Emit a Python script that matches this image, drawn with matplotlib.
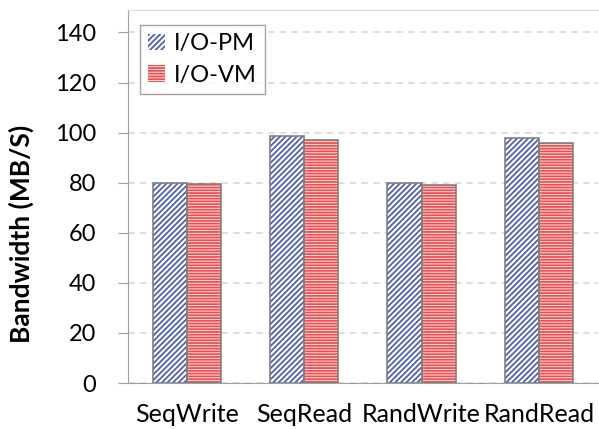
import matplotlib.pyplot as plt
import numpy as np
from matplotlib.patches import Patch

plt.rcParams['font.family'] = ['Lato', 'DejaVu Sans']
plt.rcParams['hatch.linewidth'] = 1.3

categories = ["SeqWrite", "SeqRead", "RandWrite", "RandRead"]
pm_values = [80, 98.5, 80, 98]
vm_values = [79.5, 97, 79, 96]
series_names = ["I/O-PM", "I/O-VM"]
yticks = [0, 20, 40, 60, 80, 100, 120, 140]

fig = plt.figure(figsize=(5.99, 4.29), dpi=100)
ax = fig.add_axes([0.2137, 0.107, 0.784, 0.87])

x = np.arange(len(categories))
w = 0.29

# hatched fills, then grey outlines on top
ax.bar(x - w / 2, pm_values, w, color="white", edgecolor="#5060b0",
       hatch="//////", linewidth=0, zorder=3)
ax.bar(x + w / 2, vm_values, w, color="#ffe4e4", edgecolor="#f05050",
       hatch="------", linewidth=0, zorder=3)
ax.bar(x - w / 2, pm_values, w, fill=False, edgecolor="#808080", linewidth=1.2, zorder=4)
ax.bar(x + w / 2, vm_values, w, fill=False, edgecolor="#808080", linewidth=1.2, zorder=4)

handles = [
    Patch(facecolor="white", edgecolor="#5060b0", hatch="//////", linewidth=0),
    Patch(facecolor="#ffe4e4", edgecolor="#f05050", hatch="------", linewidth=0),
]
leg = ax.legend(handles, series_names, loc="upper left", bbox_to_anchor=(0.025, 0.96),
                fontsize=17, frameon=True, fancybox=False, handlelength=0.7,
                handleheight=0.7, handletextpad=0.4, borderpad=0.35, labelspacing=0.45,
                borderaxespad=0)
leg.get_frame().set_edgecolor("#8c8c8c")
leg.get_frame().set_linewidth(1.0)

ax.set_xlim(-0.5, 3.5)
ax.set_ylim(0, 149)
ax.set_yticks(yticks)
ax.set_xticks(x)
ax.set_xticklabels(categories)
ax.tick_params(axis="y", labelsize=17, length=7, color="#a0a0a0", pad=16)
ax.tick_params(axis="x", labelsize=18, length=0, pad=14)
ax.set_ylabel("Bandwidth (MB/S)", fontsize=19, fontweight="bold")
ax.yaxis.set_label_coords(-0.2, 0.40)

ax.yaxis.grid(True, linestyle=(0, (4, 3)), color="#d8d8d8", linewidth=1.2, zorder=0)
ax.set_axisbelow(True)
for s in ["left", "bottom"]:
    ax.spines[s].set_color("#a0a0a0")
ax.spines["top"].set_color("#d8d8d8")
ax.spines["right"].set_visible(False)

plt.savefig("out.png")
